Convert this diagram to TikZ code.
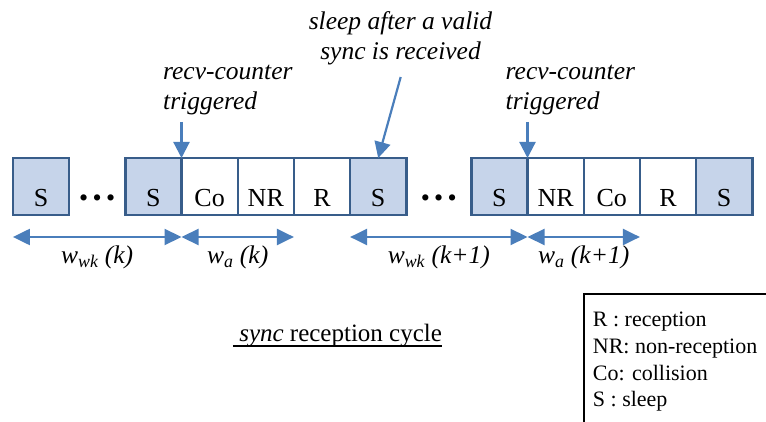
\documentclass[tikz,border=0pt]{standalone}
\usepackage{fontspec}
\setmainfont{Liberation Serif}
\usetikzlibrary{positioning,arrows.meta}
\definecolor{slotline}{HTML}{385D8A}
\definecolor{slotfill}{HTML}{C6D4EA}
\definecolor{arrowblue}{HTML}{4A7EBB}
\tikzset{
  slot/.style={draw=slotline, line width=2.4pt, minimum width=56.2pt, minimum height=57pt,
    inner sep=0pt, outer sep=0pt, text height=48.5pt, text depth=8.5pt,
    font=\fontsize{26}{30}\selectfont},
  sleepslot/.style={slot, fill=slotfill},
  gapslot/.style={slot, draw=none},
  pointer/.style={draw=arrowblue, line width=2.2pt, -{Triangle[length=16pt,width=16pt]}},
  span/.style={draw=arrowblue, line width=2.2pt,
    {Triangle[length=17pt,width=16pt]}-{Triangle[length=17pt,width=16pt]}},
  note/.style={font=\fontsize{25.5}{30}\selectfont\itshape, inner sep=0pt},
  widthlabel/.style={note, below=8pt}
}
\begin{document}
\begin{tikzpicture}[x=1pt,y=-1pt]
\useasboundingbox (0,0) rectangle (766,422);
\clip (0,0) rectangle (766,422);
\node [sleepslot] (s1) at (41,186.5) {S};
\node [gapslot, right=0pt of s1] (dotsa) {\textbullet\,\textbullet\,\textbullet};
\node [sleepslot, right=0pt of dotsa] (s2) {S};
\node [slot, right=0pt of s2] (co1) {Co};
\node [slot, right=0pt of co1] (nr1) {NR};
\node [slot, right=0pt of nr1] (r1) {R};
\node [sleepslot, right=0pt of r1] (s3) {S};
\node [gapslot, minimum width=65pt, right=0pt of s3] (dotsb) {\textbullet\,\textbullet\,\textbullet};
\node [sleepslot, right=0pt of dotsb] (s4) {S};
\node [slot, right=0pt of s4] (nr2) {NR};
\node [slot, right=0pt of nr2] (co2) {Co};
\node [slot, right=0pt of co2] (r2) {R};
\node [sleepslot, right=0pt of r2] (s5) {S};

\node [note, align=left, anchor=base west] (triga) at (163,110) {recv-counter\\triggered};
\node [note, align=center, anchor=base] (sleepnote) at (400.5,60) {sleep after a valid\\sync is received};
\node [note, align=left, anchor=base west] (trigb) at (505.5,110) {recv-counter\\triggered};
\coordinate (ta) at (co1.north west |- 0,122);
\coordinate (tb) at (400.7,77);
\coordinate (tc) at (s4.north east |- 0,122);
\draw [pointer] (ta) -- (co1.north west);
\draw [pointer] (tb) -- (s3.north);
\draw [pointer] (tc) -- (s4.north east);

\draw [span] ([yshift=-22pt]s1.south west) -- node [widthlabel] {w\textsubscript{wk} (k)} ([yshift=-22pt]s2.south east);
\draw [span] ([yshift=-22pt]co1.south west) -- node [widthlabel] {w\textsubscript{a} (k)} ([yshift=-22pt]nr1.south east);
\draw [span] ([yshift=-22pt]s3.south west) -- node [widthlabel] {w\textsubscript{wk} (k+1)} ([yshift=-22pt]s4.south east);
\draw [span] ([yshift=-22pt]nr2.south west) -- node [widthlabel] {w\textsubscript{a} (k+1)} ([yshift=-22pt]co2.south east);

\node [anchor=base, inner sep=0pt, font=\fontsize{25}{30}\selectfont] (cycle) at (337.5,341.7) {\ \textit{sync} reception cycle};
\draw [line width=1.6pt] ([yshift=-4.5pt]cycle.base west) -- ([yshift=-4.5pt]cycle.base east);

\draw [line width=1.2pt] (584,294) rectangle (800,450);
\node [anchor=base west, align=left, inner sep=0pt, font=\fontsize{22}{26.7}\selectfont] (legend) at (592.7,406.8)
  {R : reception\\NR: non-reception\\Co: collision\\S : sleep};
\end{tikzpicture}
\end{document}
